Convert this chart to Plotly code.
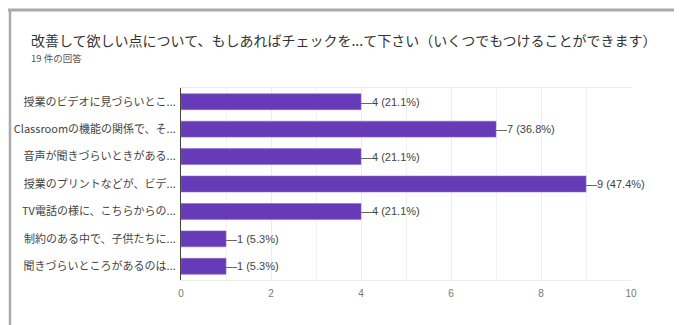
import plotly.graph_objects as go

title_text = "改善して欲しい点について、もしあればチェックを...て下さい（いくつでもつけることができます）"
subtitle_text = "19 件の回答"
categories = [
    "授業のビデオに見づらいとこ...",
    "Classroomの機能の関係で、そ...",
    "音声が聞きづらいときがある...",
    "授業のプリントなどが、ビデ...",
    "TV電話の様に、こちらからの...",
    "制約のある中で、子供たちに...",
    "聞きづらいところがあるのは...",
]
counts = [4, 7, 4, 9, 4, 1, 1]
percents = [21.1, 36.8, 21.1, 47.4, 21.1, 5.3, 5.3]
x_ticks = [0, 2, 4, 6, 8, 10]

# page body has an 8px default margin; compensate
OFF = 8
W, H = 682, 325
L, T = 181 - OFF, 88 - OFF
pw, ph = 450, 192
R, B = W - L - pw, H - T - ph

def px(x):
    return (x - OFF - L) / pw

def py(y):
    return (T + ph - (y - OFF)) / ph

FONT = "Liberation Sans, Noto Sans CJK JP, Arial, sans-serif"
JFONT = "Noto Sans CJK JP, Roboto, Arial, sans-serif"

fig = go.Figure()
fig.add_trace(go.Bar(
    x=counts, y=categories, orientation="h",
    marker=dict(color="#673ab7", line=dict(color="#8c6bd0", width=0.6)),
    width=0.58, hoverinfo="skip",
))

for c, p, cat in zip(counts, percents, categories):
    fig.add_annotation(
        x=c, y=cat, xref="x", yref="y", xanchor="left", yanchor="middle",
        text=f"—{c} ({p}%)", showarrow=False,
        font=dict(family=FONT, size=11, color="#444"), xshift=-2,
    )

fig.add_annotation(
    x=px(29), y=py(40), xref="paper", yref="paper", xanchor="left", yanchor="middle",
    text=title_text, showarrow=False, font=dict(family=JFONT, size=14, color="#333"),
)
fig.add_annotation(
    x=px(29), y=py(58), xref="paper", yref="paper", xanchor="left", yanchor="middle",
    text=subtitle_text, showarrow=False, font=dict(family=JFONT, size=9.5, color="#555"),
)

# card border
fig.add_shape(type="line", xref="paper", yref="paper", x0=px(8), x1=px(700), y0=py(10), y1=py(10),
              line=dict(color="#aaaaaa", width=3))
fig.add_shape(type="line", xref="paper", yref="paper", x0=px(10), x1=px(10), y0=py(10), y1=py(340),
              line=dict(color="#aaaaaa", width=2.5))

fig.update_layout(
    width=W, height=H,
    margin=dict(l=L, r=R, t=T, b=B),
    paper_bgcolor="white", plot_bgcolor="white",
    showlegend=False,
    xaxis=dict(
        range=[0, 10], tickvals=x_ticks, ticks="", showgrid=True, gridcolor="#ececec", gridwidth=1,
        minor=dict(dtick=1, showgrid=True, gridcolor="#f2f2f2"),
        showline=True, mirror=True, linecolor="#ececec", zeroline=False,
        tickfont=dict(family=FONT, size=10, color="#777"), ticklabelstandoff=4,
        fixedrange=True, automargin=False,
    ),
    yaxis=dict(
        autorange="reversed", showgrid=False, ticks="", showline=True, linecolor="#444", linewidth=1,
        tickfont=dict(family=JFONT, size=11, color="#444"), ticklabelstandoff=2,
        fixedrange=True, automargin=False,
    ),
)

fig.write_html("out.html")
